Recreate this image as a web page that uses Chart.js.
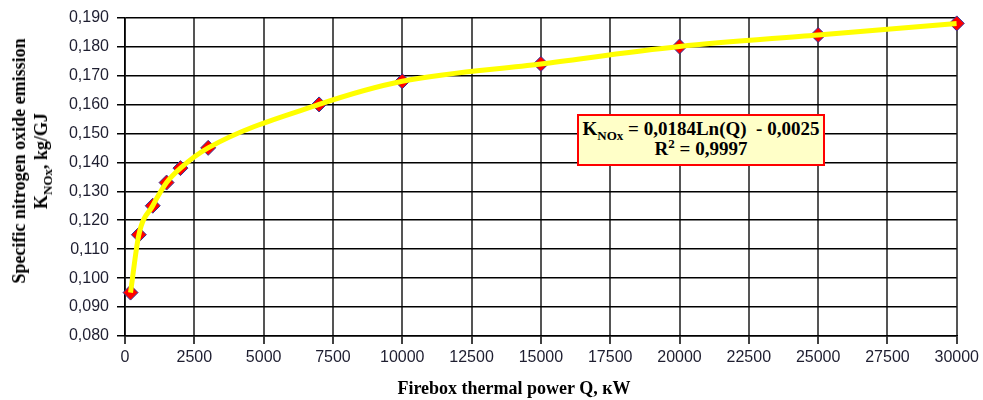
<!DOCTYPE html>
<html>
<head>
<meta charset="utf-8">
<script src="https://cdn.jsdelivr.net/npm/chart.js@4.4.1/dist/chart.umd.min.js"></script>
<style>
  body { margin: 0; background: #fff; }
  #wrap { position: relative; width: 983px; height: 400px; }
  .serif { font-family: "Liberation Serif", "Times New Roman", serif; font-weight: bold; color: #000; }
  #yTitle { position: absolute; left: 30px; top: 161px; transform: translate(-50%, -50%) rotate(-90deg);
            white-space: nowrap; text-align: center; font-size: 18px; line-height: 22px; }
  #xTitle { position: absolute; left: 514px; top: 388px; transform: translate(-50%, -50%);
            white-space: nowrap; font-size: 18px; }
  #fitBox { position: absolute; left: 577px; top: 114px; width: 244px; height: 45px;
            border: 2px solid #ff0000; background: #ffffc8; text-align: center;
            font-size: 19px; line-height: 20px; padding-top: 3px; box-sizing: content-box; }
  sub, sup { font-size: 13px; line-height: 0; }
</style>
</head>
<body>
<div id="wrap">
  <canvas id="kChart"></canvas>
  <div id="yTitle" class="serif">Specific nitrogen oxide emission<br>K<sub>NOx</sub>, kg/GJ</div>
  <div id="xTitle" class="serif">Firebox thermal power Q, кW</div>
  <div id="fitBox" class="serif">K<sub>NOx</sub> = 0,0184Ln(Q)&nbsp; - 0,0025<br>R<sup>2</sup> = 0,9997</div>
</div>
<script>
const powerQ = [200, 500, 1000, 1500, 2000, 3000, 7000, 10000, 15000, 20000, 25000, 30000];
const emissionK = [0.095, 0.115, 0.125, 0.133, 0.138, 0.145, 0.160, 0.168, 0.174, 0.180, 0.184, 0.188];

// Axis settings
const xMin = 0, xMax = 30000, xStep = 2500;
const yMin = 0.08, yMax = 0.19, yStep = 0.01;

const points = powerQ.map((q, i) => ({ x: q, y: emissionK[i] }));

var ctx = document.getElementById('kChart').getContext('2d');
new Chart(ctx, {
    type: 'scatter',
    data: {
        datasets: [{
            // yellow trend curve, drawn on top of the markers
            data: points,
            showLine: true,
            borderColor: '#ffff00',
            borderWidth: 5,
            pointRadius: 0,
            cubicInterpolationMode: 'monotone',
            order: 0
        }, {
            data: points,
            showLine: false,
            pointStyle: 'rectRot',
            pointRadius: 7.5,
            backgroundColor: '#ff0000',
            borderColor: '#33339a',
            borderWidth: 1,
            clip: false,
            order: 1
        }]
    },
    options: {
        responsive: true,
        maintainAspectRatio: false,
        animation: false,
        layout: { padding: { top: 16, right: 26, left: 0, bottom: 0 } },
        plugins: {
            legend: { display: false },
            tooltip: { enabled: false }
        },
        scales: {
            x: {
                type: 'linear',
                min: xMin,
                max: xMax,
                afterFit: s => { s.height = 64; },
                ticks: {
                    stepSize: xStep,
                    color: '#1e1e30',
                    padding: 4,
                    maxRotation: 0,
                    font: { family: '"Liberation Sans", Arial, sans-serif', size: 16 },
                    callback: v => String(v)
                },
                grid: { color: '#555', lineWidth: 2, tickColor: '#000', tickLength: 8, tickWidth: 1.5 },
                border: { color: '#000', width: 1.5 }
            },
            y: {
                min: yMin,
                max: yMax,
                afterFit: s => { s.width = 125; },
                ticks: {
                    stepSize: yStep,
                    color: '#1e1e30',
                    padding: 8,
                    font: { family: '"Liberation Sans", Arial, sans-serif', size: 16 },
                    callback: v => v.toFixed(3).replace('.', ',')
                },
                grid: { color: '#000', lineWidth: 1.5, tickColor: '#000', tickLength: 8 },
                border: { color: '#000', width: 1.5 }
            }
        }
    }
});
</script>
</body>
</html>
